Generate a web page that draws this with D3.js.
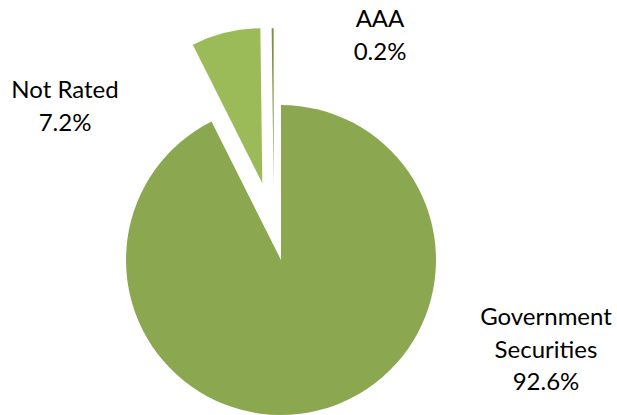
<!DOCTYPE html>
<html>
<head>
<meta charset="utf-8">
<script src="https://cdn.jsdelivr.net/npm/d3@7"></script>
<style>
  html, body { margin: 0; padding: 0; background: #ffffff; }
  svg { display: block; }
  text { font-family: Lato, "Open Sans", sans-serif; fill: #000000; }
</style>
</head>
<body>
<div id="chart"></div>
<script>
// Credit-quality breakdown (percent of portfolio)
const categories = ["Government Securities", "Not Rated", "AAA"];
const shares = [92.6, 7.2, 0.2];
const labelLines = [["Government", "Securities"], ["Not Rated"], ["AAA"]];
const colors = ["#8ba750", "#9bbb59", "#77933c"];

// Layout and styling
const width = 617, height = 415;
const cx = 281, cy = 260, radius = 155;
// distance each slice is pulled out of the pie, and an optional direction (degrees, clockwise from 12 o'clock)
const explode = { "Not Rated": { dist: 79 }, "AAA": { dist: 77, dir: -5.5 } };
// text block anchors (centre x, first baseline y)
const labelAt = {
  "Government Securities": [546, 325],
  "Not Rated": [65, 98],
  "AAA": [380, 27]
};
const lineGap = 32.5;
const fontSize = 24;

const data = categories.map((c, i) => ({ category: c, value: shares[i], lines: labelLines[i], color: colors[i] }));

const svg = d3.select("#chart").append("svg")
  .attr("width", width).attr("height", height);

const pie = d3.pie().sort(null).value(d => d.value).startAngle(0).endAngle(2 * Math.PI);
const arc = d3.arc().innerRadius(0).outerRadius(radius);

const g = svg.append("g").attr("transform", `translate(${cx},${cy})`);

g.selectAll("path.slice")
  .data(pie(data))
  .join("path")
  .attr("class", "slice")
  .attr("d", arc)
  .attr("fill", d => d.data.color)
  .attr("transform", d => {
    const e = explode[d.data.category];
    if (!e) return null;
    const a = e.dir !== undefined ? e.dir * Math.PI / 180 : (d.startAngle + d.endAngle) / 2;
    return `translate(${Math.sin(a) * e.dist},${-Math.cos(a) * e.dist})`;
  });

const labels = svg.selectAll("text.label")
  .data(data)
  .join("text")
  .attr("class", "label")
  .attr("text-anchor", "middle")
  .attr("font-size", fontSize)
  .attr("x", d => labelAt[d.category][0])
  .attr("y", d => labelAt[d.category][1]);

labels.each(function (d) {
  const t = d3.select(this);
  const [x] = labelAt[d.category];
  const lines = d.lines.concat([d3.format(".1f")(d.value) + "%"]);
  lines.forEach((s, i) => {
    t.append("tspan").attr("x", x).attr("dy", i === 0 ? 0 : lineGap).text(s);
  });
});
</script>
</body>
</html>
